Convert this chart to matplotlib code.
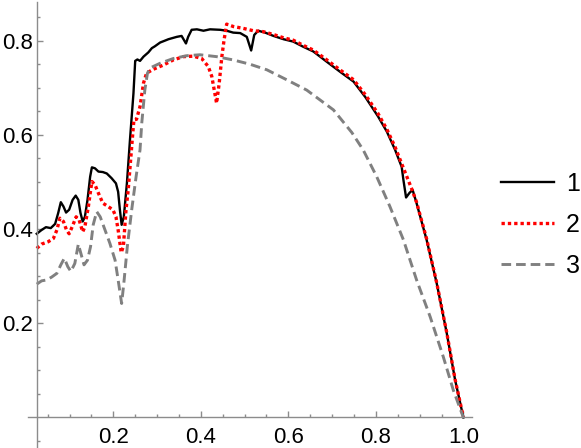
import matplotlib
matplotlib.use("Agg")
import matplotlib.pyplot as plt
from matplotlib.ticker import FixedLocator
import numpy as np

plt.rcParams['font.family'] = ['Liberation Sans', 'DejaVu Sans']

# ---- data ----
x1 = [0.025,0.036,0.046,0.057,0.067,0.074,0.080,0.086,0.092,0.099,0.107,0.114,0.120,0.125,0.130,0.135,0.141,0.147,0.151,0.158,
      0.166,0.176,0.185,0.196,0.206,0.211,0.215,0.219,0.224,0.231,0.238,0.246,0.250,0.255,0.261,0.269,0.280,0.288,0.295,0.307,
      0.318,0.326,0.345,0.356,0.366,0.371,0.379,0.391,0.406,0.421,0.444,0.459,0.474,0.490,0.505,0.515,0.522,0.531,0.547,0.566,
      0.589,0.611,0.634,0.657,0.688,0.718,0.749,0.776,0.805,0.825,0.844,0.859,0.863,0.869,0.877,0.884,0.893,0.916,0.939,0.962,
      0.981,1.0]
y1 = [0.390,0.398,0.404,0.402,0.411,0.434,0.457,0.448,0.435,0.441,0.462,0.471,0.462,0.434,0.416,0.426,0.462,0.511,0.531,0.529,
      0.522,0.521,0.518,0.508,0.497,0.479,0.441,0.409,0.426,0.497,0.589,0.688,0.757,0.760,0.757,0.766,0.775,0.784,0.788,0.796,
      0.800,0.803,0.808,0.810,0.794,0.808,0.823,0.824,0.821,0.824,0.823,0.821,0.817,0.816,0.808,0.779,0.812,0.821,0.817,0.810,
      0.803,0.798,0.787,0.777,0.755,0.734,0.713,0.680,0.639,0.607,0.568,0.532,0.504,0.467,0.477,0.483,0.455,0.377,0.285,0.179,
      0.080,0.0]

x2 = [0.025,0.036,0.051,0.063,0.071,0.078,0.086,0.093,0.099,0.107,0.115,0.122,0.130,0.135,0.143,0.151,0.158,0.166,0.176,0.186,
      0.199,0.206,0.211,0.218,0.223,0.229,0.234,0.242,0.247,0.253,0.261,0.269,0.276,0.291,0.314,0.337,0.360,0.383,0.402,0.417,
      0.425,0.432,0.436,0.442,0.448,0.453,0.459,0.474,0.497,0.520,0.543,0.566,0.589,0.611,0.634,0.657,0.688,0.718,0.749,0.776,
      0.805,0.825,0.844,0.867,0.882,0.893,0.916,0.939,0.962,0.981,1.0]
y2 = [0.359,0.368,0.373,0.380,0.398,0.423,0.416,0.398,0.390,0.407,0.426,0.419,0.394,0.405,0.448,0.501,0.494,0.476,0.455,0.449,
      0.441,0.426,0.398,0.350,0.363,0.441,0.483,0.575,0.632,0.633,0.660,0.710,0.731,0.739,0.748,0.759,0.766,0.767,0.762,0.745,
      0.724,0.688,0.667,0.710,0.766,0.801,0.835,0.830,0.826,0.821,0.819,0.813,0.806,0.801,0.790,0.780,0.759,0.738,0.717,0.685,
      0.645,0.612,0.574,0.520,0.485,0.457,0.379,0.286,0.180,0.081,0.0]

x3 = [0.025,0.036,0.048,0.059,0.071,0.080,0.088,0.096,0.103,0.112,0.120,0.128,0.133,0.141,0.148,0.154,0.162,0.170,0.181,0.192,
      0.204,0.211,0.219,0.224,0.232,0.242,0.252,0.261,0.265,0.272,0.278,0.284,0.307,0.337,0.368,0.398,0.436,0.474,0.512,0.551,
      0.596,0.642,0.703,0.745,0.771,0.802,0.832,0.863,0.893,0.924,0.954,0.977,1.0]
y3 = [0.283,0.290,0.292,0.298,0.306,0.324,0.338,0.320,0.310,0.327,0.368,0.341,0.324,0.334,0.363,0.409,0.437,0.426,0.398,0.370,
      0.334,0.292,0.242,0.285,0.363,0.441,0.511,0.568,0.625,0.695,0.731,0.742,0.752,0.762,0.768,0.770,0.766,0.759,0.750,0.738,
      0.717,0.695,0.653,0.605,0.568,0.511,0.448,0.377,0.292,0.214,0.129,0.058,0.0]

labels = ["1", "2", "3"]
xticks = [0.2, 0.4, 0.6, 0.8, 1.0]
yticks = [0.2, 0.4, 0.6, 0.8]
xtick_labels = ["0.2", "0.4", "0.6", "0.8", "1.0"]
ytick_labels = ["0.2", "0.4", "0.6", "0.8"]

# ---- figure ----
W, H = 581, 448
fig = plt.figure(figsize=(W/100, H/100), dpi=100)
x0, x1px = 28.0, 471.7
ax = fig.add_axes([x0/W, 0.0, (x1px-x0)/W, 446/H])
ax.set_xlim(0.005, 1.019)
ax.set_ylim(-0.0648, 0.882)

ax.plot(x1, y1, color='black', lw=1.7, solid_joinstyle='round', label=labels[0])
ax.plot(x2, y2, color='#ff0000', lw=2.4, linestyle=(0, (1.0, 0.9)), dash_capstyle='butt', label=labels[1])
ax.plot(x3, y3, color='#808080', lw=2.1, linestyle=(0, (3.3, 1.7)), dash_capstyle='butt', label=labels[2])

for s in ['top', 'right']:
    ax.spines[s].set_visible(False)
ax.spines['left'].set_position(('data', 0.026))
ax.spines['bottom'].set_position(('data', 0.0))
for s in ['left', 'bottom']:
    ax.spines[s].set_color('#8c8c8c')
    ax.spines[s].set_linewidth(1.0)

ax.xaxis.set_major_locator(FixedLocator(xticks))
ax.xaxis.set_minor_locator(FixedLocator([v for v in np.arange(0.05, 1.01, 0.05) if abs(v/0.2 - round(v/0.2)) > 1e-6]))
ax.yaxis.set_major_locator(FixedLocator(yticks))
ax.yaxis.set_minor_locator(FixedLocator([-0.05, 0.05, 0.1, 0.15, 0.25, 0.3, 0.35, 0.45, 0.5, 0.55, 0.65, 0.7, 0.75, 0.85]))
ax.set_xticklabels(xtick_labels)
ax.set_yticklabels(ytick_labels)

ax.tick_params(axis='both', which='both', direction='in', color='#8c8c8c', width=1.0, labelcolor='black', labelsize=16)
ax.tick_params(axis='both', which='major', length=4.0)
ax.tick_params(axis='both', which='minor', length=2.2)
ax.tick_params(axis='x', which='major', pad=6.5)
ax.tick_params(axis='y', which='major', pad=3)

leg = ax.legend(loc='upper left', bbox_to_anchor=(501/W, 1 - 172/H), bbox_transform=fig.transFigure,
                frameon=False, fontsize=18, handlelength=2.1, handletextpad=0.5, labelspacing=0.68,
                borderpad=0, borderaxespad=0)

fig.savefig("out.png", dpi=100)
